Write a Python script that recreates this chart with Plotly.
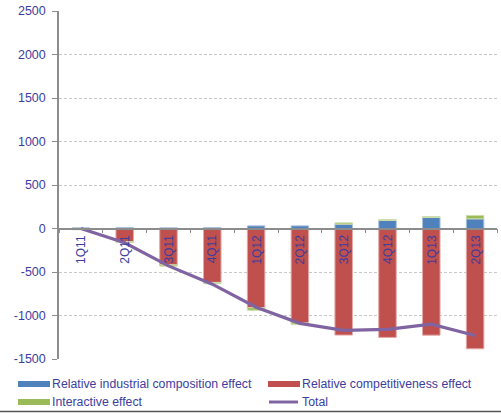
import plotly.graph_objects as go

quarters = ["1Q11", "2Q11", "3Q11", "4Q11", "1Q12", "2Q12", "3Q12", "4Q12", "1Q13", "2Q13"]
industrial_composition = [8, 10, 8, 10, 30, 30, 50, 92, 126, 111]
competitiveness = [-8, -150, -418, -620, -910, -1085, -1225, -1252, -1226, -1383]
interactive = [-6, -12, -15, -15, -30, -20, 15, 11, 12, 39]
total = [0, -165, -430, -640, -905, -1090, -1170, -1160, -1100, -1230]
y_ticks = [-1500, -1000, -500, 0, 500, 1000, 1500, 2000, 2500]
y_tick_text = [str(v) for v in y_ticks]

W, H = 501, 413
L, R, T, B = 59, 4, 11, 54
TEXT = "#3d3d9e"
FONT = "Liberation Sans, Arial, sans-serif"

x = list(range(len(quarters)))

fig = go.Figure()
fig.add_bar(x=x, y=industrial_composition, name="Relative industrial composition effect",
            marker=dict(color="#4f81bd", line=dict(color="#a9c0de", width=1)), width=0.4)
fig.add_bar(x=x, y=competitiveness, name="Relative competitiveness effect",
            marker=dict(color="#c0504d", line=dict(color="#e3a9a7", width=1)), width=0.4)
fig.add_bar(x=x, y=interactive, name="Interactive effect",
            marker=dict(color="#9bbb59", line=dict(color="#cddcac", width=1)), width=0.4)
fig.add_scatter(x=x, y=total, name="Total", mode="lines",
                line=dict(color="#8064a2", width=3.2))

# category labels sit just under the zero line, rotated
for i, q in enumerate(quarters):
    fig.add_annotation(x=i, y=0, xref="x", yref="y", text=q, showarrow=False,
                       textangle=-90, xanchor="center", yanchor="top", yshift=-4,
                       font=dict(family=FONT, size=12, color=TEXT))

pw, ph = W - L - R, H - T - B


def px(xp):
    return (xp - L) / pw


def py(yp):
    return (H - B - yp) / ph


# legend drawn as swatches + labels below the plot
legend_items = [
    ("Relative industrial composition effect", "#4f81bd", 18, 384, "bar"),
    ("Relative competitiveness effect", "#c0504d", 268, 384, "bar"),
    ("Interactive effect", "#9bbb59", 18, 402, "bar"),
    ("Total", "#8064a2", 268, 402, "line"),
]
shapes = []
for label, color, x0, yc, kind in legend_items:
    if kind == "bar":
        shapes.append(dict(type="rect", xref="paper", yref="paper",
                           x0=px(x0), x1=px(x0 + 32), y0=py(yc + 3), y1=py(yc - 3),
                           fillcolor=color, line=dict(width=0)))
    else:
        shapes.append(dict(type="line", xref="paper", yref="paper",
                           x0=px(x0 + 1), x1=px(x0 + 30), y0=py(yc), y1=py(yc),
                           line=dict(color=color, width=3)))
    fig.add_annotation(x=px(x0 + 32), y=py(yc), xref="paper", yref="paper", text=label,
                       showarrow=False, xanchor="left", yanchor="middle",
                       font=dict(family=FONT, size=12.3, color=TEXT))

shapes.append(dict(type="line", xref="paper", yref="paper", x0=px(0), x1=px(W),
                   y0=py(411.5), y1=py(411.5), line=dict(color="#555555", width=1.5)))

fig.update_layout(
    width=W, height=H, margin=dict(l=L, r=R, t=T, b=B),
    paper_bgcolor="white", plot_bgcolor="white",
    barmode="relative", showlegend=False, shapes=shapes,
    font=dict(family=FONT, size=12, color=TEXT),
    xaxis=dict(range=[-0.5, len(quarters) - 0.5], anchor="free",
               position=1500 / 4000, showline=True, linecolor="#8c8c8c", linewidth=1.5,
               ticks="outside", ticklen=4, tickcolor="#8c8c8c",
               tickvals=[i - 0.5 for i in range(len(quarters) + 1)],
               showticklabels=False, showgrid=False, zeroline=False),
    yaxis=dict(range=[-1500, 2500], tickvals=y_ticks, ticktext=y_tick_text,
               showline=True, linecolor="#8c8c8c", linewidth=1.5, ticks="outside",
               ticklen=5, tickcolor="#8c8c8c", ticklabelstandoff=4,
               showgrid=True, gridcolor="#c8c8c8", griddash="3px,2px", zeroline=False,
               tickfont=dict(family=FONT, size=12.5, color=TEXT)),
)

fig.write_html("out.html")
